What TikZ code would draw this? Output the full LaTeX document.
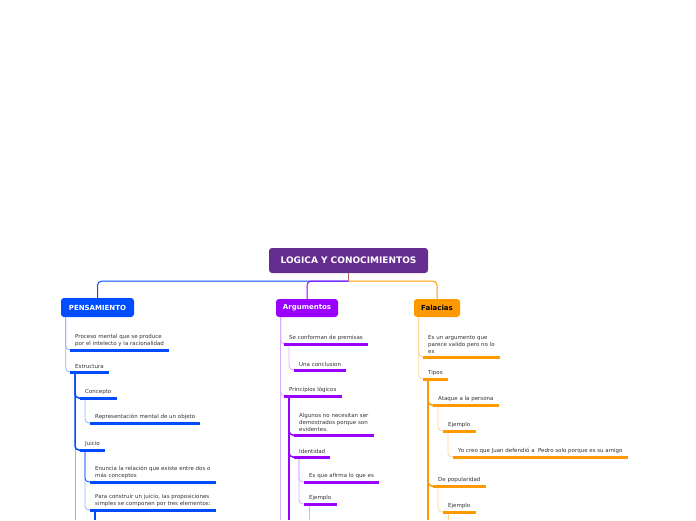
\documentclass[tikz,border=0pt]{standalone}
\usepackage{fontspec}
\setmainfont{DejaVu Sans}
\definecolor{raizcol}{HTML}{662D91}
\definecolor{azul}{HTML}{004CFF}
\definecolor{azulclaro}{HTML}{93B2FF}
\definecolor{morado}{HTML}{9900FF}
\definecolor{moradoclaro}{HTML}{DDAAFF}
\definecolor{naranja}{HTML}{FF9900}
\definecolor{naranjaclaro}{HTML}{FFD592}
\definecolor{tallo}{HTML}{C0645A}
\definecolor{texto}{HTML}{333333}

\begin{document}
\begin{tikzpicture}[x=1pt,y=-1pt]
\tikzstyle{caja}=[rounded corners=3pt,text=white,font=\fontsize{7}{8}\selectfont\bfseries,inner sep=0pt]
\tikzstyle{tema}=[anchor=south west,align=left,text=texto,font=\fontsize{5.5}{7}\selectfont,inner xsep=5pt,inner ysep=2.8pt]
\tikzstyle{fino}=[rounded corners=4pt,line width=0.8pt]
\tikzstyle{grueso}=[rounded corners=4pt,line width=1.5pt]
\tikzstyle{barra}=[line width=3pt]
\useasboundingbox[fill=white] (0,0) rectangle (696,520);
\coordinate (fondo) at (0,520);

% ramas principales
\node[caja,fill=raizcol,minimum width=159pt,minimum height=25pt,font=\fontsize{9}{10}\selectfont\bfseries] (raiz) at (348.5,260.5) {LOGICA Y CONOCIMIENTOS};
\node[caja,fill=azul,minimum width=73pt,minimum height=19pt] (pens) at (97.5,307.5) {PENSAMIENTO};
\node[caja,fill=morado,minimum width=62pt,minimum height=18pt] (arg) at (307,308) {Argumentos};
\node[caja,fill=naranja,minimum width=46pt,minimum height=18pt,text=black] (fal) at (437,308) {Falacias};
\coordinate (nudo) at ([yshift=-8pt]raiz.south);
\draw[azul,line width=1pt,rounded corners=4pt] (nudo) -| (pens.north);
\draw[morado,line width=1pt,rounded corners=4pt] (nudo) -| (arg.north);
\draw[naranja,line width=1pt,rounded corners=4pt] (nudo) -| (fal.north);
\draw[tallo,line width=1.6pt] (raiz.south) -- (nudo);

% PENSAMIENTO
\node[tema] (p1) at (70,350) {Proceso mental que se produce\\por el intelecto y la racionalidad};
\node[tema] (p2) at (70,372) {Estructura};
\node[tema] (p21) at (80,398) {Concepto};
\node[tema] (p211) at (90,423) {Representación mental de un objeto};
\node[tema] (p22) at (80,450) {Juicio};
\node[tema] (p221) at (90,482) {Enuncia la relación que existe entre dos o\\más conceptos};
\node[tema] (p222) at (90,510) {Para construir un juicio, las proposiciones\\simples se componen por tres elementos:};
\foreach \t in {p1,p2} \draw[fino,azulclaro] ([xshift=5pt]pens.south west) |- (\t.south west);
\draw[fino,azulclaro] ([xshift=5pt]p2.south west) -- ([xshift=5pt]p2.south west |- fondo);
\foreach \t in {p21,p22} \draw[grueso,azul] ([xshift=5pt]p2.south west) |- (\t.south west);
\draw[fino,azulclaro] ([xshift=5pt]p21.south west) |- (p211.south west);
\draw[fino,azulclaro] ([xshift=5pt]p22.south west) |- (p222.south west);
\draw[fino,azul] ([xshift=5pt]p22.south west) |- (p221.south west);
\draw[grueso,azul] ([xshift=5pt]p222.south west) -- ([xshift=5pt]p222.south west |- fondo);
\foreach \t in {p1,p2,p21,p211,p22,p221,p222} \draw[barra,azul] (\t.south west) -- (\t.south east);

% Argumentos
\node[tema] (a1) at (284,344) {Se conforman de premisas};
\node[tema] (a11) at (294,370) {Una conclusion};
\node[tema] (a2) at (284,396) {Principios lógicos};
\node[tema] (a21) at (294,435) {Algunos no necesitan ser\\demostrados porque son\\evidentes.};
\node[tema] (a22) at (294,457) {Identidad};
\node[tema] (a221) at (304,482) {Es que afirma lo que es};
\node[tema] (a222) at (304,504) {Ejemplo};
\draw[fino,moradoclaro] ([xshift=5pt]arg.south west) -- ([xshift=5pt]arg.south west |- fondo);
\foreach \t in {a1,a2} \draw[fino,moradoclaro] ([xshift=5pt]arg.south west) |- (\t.south west);
\draw[fino,moradoclaro] ([xshift=5pt]a1.south west) |- (a11.south west);
\draw[grueso,morado] ([xshift=5pt]a2.south west) -- ([xshift=5pt]a2.south west |- fondo);
\foreach \t in {a21,a22} \draw[grueso,morado] ([xshift=5pt]a2.south west) |- (\t.south west);
\foreach \t in {a221,a222} \draw[fino,moradoclaro] ([xshift=5pt]a22.south west) |- (\t.south west);
\draw[fino,moradoclaro] ([xshift=5pt]a222.south west) -- ([xshift=5pt]a222.south west |- fondo);
\foreach \t in {a1,a11,a2,a21,a22,a221,a222} \draw[barra,morado] (\t.south west) -- (\t.south east);

% Falacias
\node[tema] (f1) at (423,357) {Es un argumento que\\parece valido pero no lo\\es};
\node[tema] (f2) at (423,379) {Tipos};
\node[tema] (f21) at (433,405) {Ataque a la persona};
\node[tema] (f211) at (443,431) {Ejemplo};
\node[tema] (f2111) at (453,457) {Yo creo que Juan defendió a \ Pedro solo porque es su amigo};
\node[tema] (f22) at (433,486) {De popularidad};
\node[tema] (f221) at (443,512) {Ejemplo};
\foreach \t in {f1,f2} \draw[fino,naranjaclaro] ([xshift=5pt]fal.south west) |- (\t.south west);
\draw[grueso,naranja] ([xshift=5pt]f2.south west) -- ([xshift=5pt]f2.south west |- fondo);
\foreach \t in {f21,f22} \draw[grueso,naranja] ([xshift=5pt]f2.south west) |- (\t.south west);
\draw[fino,naranjaclaro] ([xshift=5pt]f21.south west) |- (f211.south west);
\draw[fino,naranjaclaro] ([xshift=5pt]f211.south west) |- (f2111.south west);
\draw[fino,naranjaclaro] ([xshift=5pt]f22.south west) |- (f221.south west);
\draw[fino,naranjaclaro] ([xshift=5pt]f221.south west) -- ([xshift=5pt]f221.south west |- fondo);
\foreach \t in {f1,f2,f21,f211,f2111,f22,f221} \draw[barra,naranja] (\t.south west) -- (\t.south east);
\end{tikzpicture}
\end{document}
